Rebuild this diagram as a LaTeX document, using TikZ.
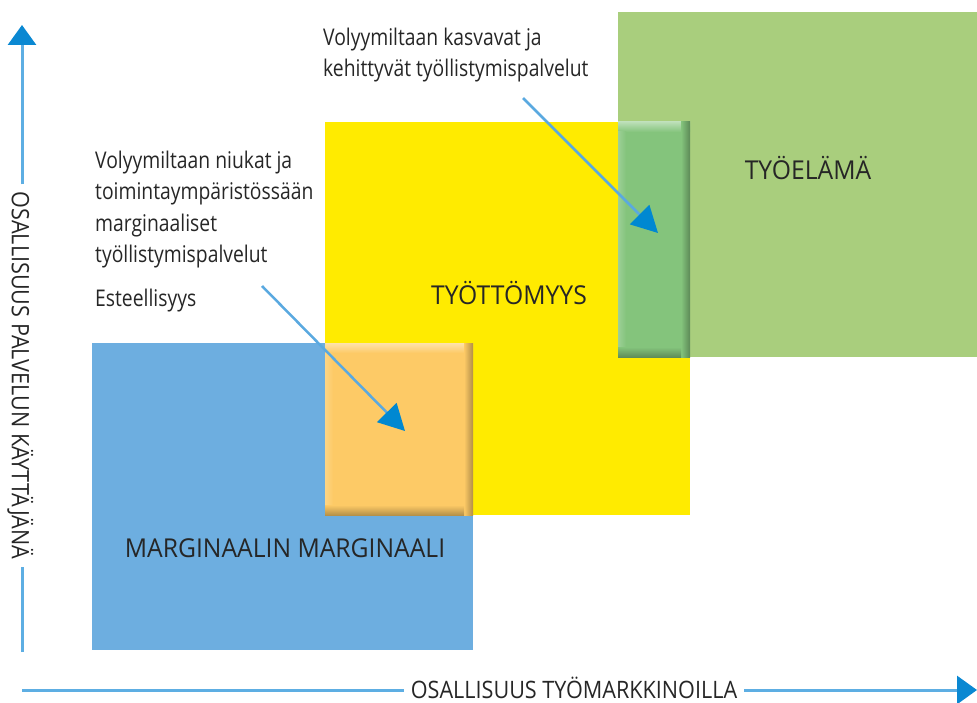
\documentclass[tikz,border=0pt]{standalone}
\usepackage{fontspec}
\setmainfont{Open Sans}
\newfontfamily\boxFont[FakeStretch=0.95]{Open Sans}
\newfontfamily\noteFont[FakeStretch=0.84]{Open Sans}
\newfontfamily\axisFont[FakeStretch=0.9]{Open Sans}
\usetikzlibrary{arrows.meta}
\definecolor{tyoelamaGreen}{HTML}{A9CE7D}
\definecolor{tyottomyysYellow}{HTML}{FFEB00}
\definecolor{marginaaliBlue}{HTML}{6DAEE0}
\definecolor{esteOrange}{HTML}{FDCA66}
\definecolor{kasvuGreen}{HTML}{84C47C}
\definecolor{labelGray}{HTML}{262626}
\definecolor{axisBlue}{HTML}{5DAEE3}
\definecolor{axisHead}{HTML}{0A88D2}
\definecolor{noteBlue}{HTML}{5AA9E0}
\definecolor{noteHead}{HTML}{0088D1}

\begin{document}
\begin{tikzpicture}[x=1pt,y=-1pt]

          \tikzstyle{greenBox} = [fill=tyoelamaGreen];
          \tikzstyle{yellowBox} = [fill=tyottomyysYellow];
          \tikzstyle{blueBox} = [fill=marginaaliBlue];
          \tikzstyle{boxLabel} = [text=labelGray, font=\boxFont\fontsize{26}{30}\selectfont, anchor=base];
          \tikzstyle{noteLabel} = [text=labelGray, font=\noteFont\fontsize{23}{31.3}\selectfont, align=left, inner sep=0pt];
          \tikzstyle{axisLabel} = [text=labelGray, font=\axisFont\fontsize{24}{28}\selectfont, anchor=base, inner xsep=7pt, inner ysep=1pt];
          \tikzstyle{axisEdge} = [line width=3pt, axisBlue];
          \tikzstyle{axisArrow} = [axisEdge, -{Triangle[length=20pt,width=28pt,color=axisHead,fill=axisHead]}];
          \tikzstyle{noteArrow} = [line width=2.5pt, noteBlue, -{Triangle[length=26pt,width=27pt,color=noteHead,fill=noteHead]}];

          \useasboundingbox (0,0) rectangle (977,703);

          \fill[greenBox] (618,12) rectangle (977,357);
          \fill[yellowBox] (325,122) rectangle (690,515);
          \fill[blueBox] (92,343) rectangle (473,650);

          \fill[esteOrange] (325,343) rectangle (473,515);
          \shade[top color=esteOrange!55!white, bottom color=esteOrange] (325,343) rectangle (473,353);
          \shade[left color=esteOrange!80!white, right color=esteOrange] (325,353) rectangle (333,505);
          \shade[left color=esteOrange, right color=esteOrange!70!black] (464,343) rectangle (473,515);
          \shade[top color=esteOrange, bottom color=esteOrange!72!black] (325,505) rectangle (464,515);

          \fill[kasvuGreen] (618,122) rectangle (690,357);
          \shade[top color=kasvuGreen!55!white, bottom color=kasvuGreen] (618,122) rectangle (690,132);
          \shade[left color=kasvuGreen!80!white, right color=kasvuGreen] (618,132) rectangle (626,347);
          \shade[left color=kasvuGreen, right color=kasvuGreen!70!black] (681,122) rectangle (690,357);
          \shade[top color=kasvuGreen, bottom color=kasvuGreen!72!black] (618,347) rectangle (681,357);

          \node[boxLabel] (tyoelama) at (808,180) {TYÖELÄMÄ};
          \node[boxLabel] (tyottomyys) at (509,305) {TYÖTTÖMYYS};
          \node[boxLabel] (marginaali) at (285,557) {MARGINAALIN MARGINAALI};

          \node[noteLabel, anchor=north west] (kasvuNote) at (323,28) {Volyymiltaan kasvavat ja\\kehittyvät työllistymispalvelut};
          \node[noteLabel, anchor=north west] (niukkaNote) at (95,151) {Volyymiltaan niukat ja\\toimintaympäristössään\\marginaaliset\\työllistymispalvelut};
          \node[noteLabel, anchor=base west] (esteNote) at (95,307) {Esteellisyys};

          \coordinate (kasvuStart) at (523,98);
          \coordinate (kasvuTip) at (658,233);
          \coordinate (esteStart) at (262,286);
          \coordinate (esteTip) at (405,431);
          \draw[noteArrow] (kasvuStart) -- (kasvuTip);
          \draw[noteArrow] (esteStart) -- (esteTip);

          \coordinate (xOrigin) at (22,690);
          \coordinate (xEnd) at (977,690);
          \coordinate (yOrigin) at (22,652);
          \coordinate (yEnd) at (22,25);
          \node[axisLabel] (xLabel) at (574,698) {OSALLISUUS TYÖMARKKINOILLA};
          \node[axisLabel, rotate=-90] (yLabel) at (12,375.5) {OSALLISUUS PALVELUN KÄYTTÄJÄNÄ};

          \draw[axisEdge] (xOrigin) -- (xLabel.west |- xOrigin);
          \draw[axisArrow] (xLabel.east |- xOrigin) -- (xEnd);
          \draw[axisEdge] (yOrigin) -- (yOrigin |- yLabel.east);
          \draw[axisArrow] (yOrigin |- yLabel.west) -- (yEnd);
        \end{tikzpicture}
\end{document}
